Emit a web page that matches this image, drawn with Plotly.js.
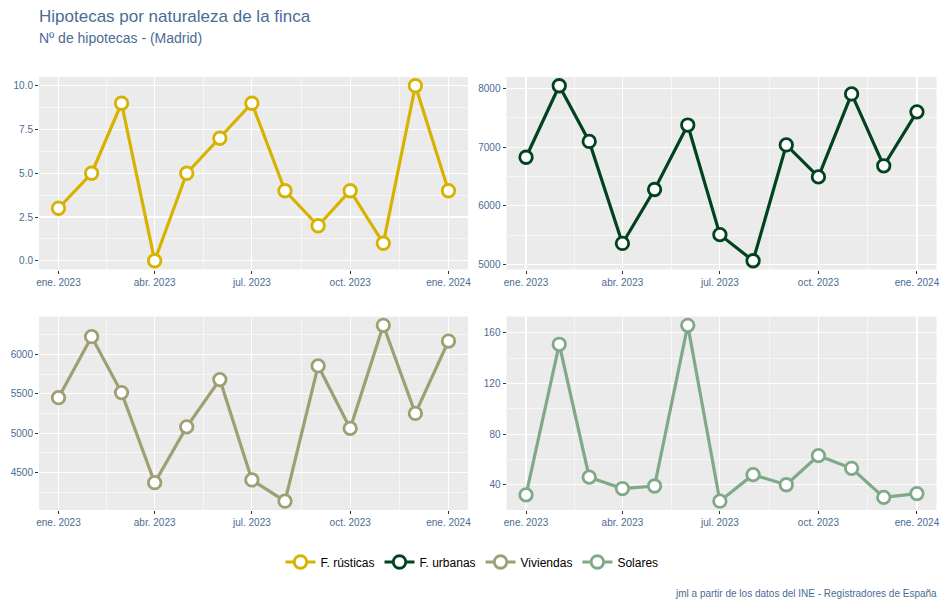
<!DOCTYPE html>
<html>
<head>
<meta charset="utf-8">
<script src="https://cdn.plot.ly/plotly-3.0.1.min.js"></script>
<style>html,body{margin:0;padding:0;background:#fff}#chart{width:944px;height:607px}</style>
</head>
<body>
<div id="chart"></div>
<script>
// ---- Data ----
const months = ["2023-01-01","2023-02-01","2023-03-01","2023-04-01","2023-05-01","2023-06-01","2023-07-01",
                "2023-08-01","2023-09-01","2023-10-01","2023-11-01","2023-12-01","2024-01-01"];
const rusticas = [3, 5, 9, 0, 5, 7, 9, 4, 2, 4, 1, 10, 4];
const urbanas  = [6830, 8050, 7100, 5360, 6280, 7380, 5510, 5065, 7040, 6495, 7910, 6685, 7605];
const viviendas = [5450, 6225, 5515, 4370, 5080, 5680, 4405, 4135, 5855, 5060, 6370, 5250, 6170];
const solares  = [32, 151, 46, 37, 39, 166, 27, 48, 40, 63, 53, 30, 33];
const seriesNames = ["F. rústicas", "F. urbanas", "Viviendas", "Solares"];
const xTickVals = ["2023-01-01","2023-04-01","2023-07-01","2023-10-01","2024-01-01"];
const xTickText = ["ene. 2023","abr. 2023","jul. 2023","oct. 2023","ene. 2024"];
const yTicks1 = [0, 2.5, 5, 7.5, 10];
const yTicks2 = [5000, 6000, 7000, 8000];
const yTicks3 = [4500, 5000, 5500, 6000];
const yTicks4 = [40, 80, 120, 160];

// ---- Style ----
const colors = ["#D6B300", "#00431E", "#9E9F72", "#80A987"];
const txtBlue = "#4A6C94";
const FONT = "Liberation Sans, Arial, sans-serif";
const W = 944, H = 607;

function dt(s){ return new Date(s + "T00:00:00Z").getTime(); }
function iso(t){ return new Date(t).toISOString().slice(0,19).replace("T"," "); }
const t0 = dt(months[0]), t1 = dt(months[months.length-1]);
const pad = (t1 - t0) * 0.05;
const xRange = [iso(t0 - pad), iso(t1 + pad)];
const xMinor = [];
for (let i = 0; i < xTickVals.length - 1; i++) xMinor.push(iso((dt(xTickVals[i]) + dt(xTickVals[i+1])) / 2));

function yRange(v){ const mn = Math.min(...v), mx = Math.max(...v), p = (mx - mn) * 0.05; return [mn - p, mx + p]; }
function yMinor(t){ const out = []; const s = t[1]-t[0]; for (let i = -1; i < t.length; i++) out.push(t[0] + s*i + s/2); return out; }

const px = (a,b) => [a/W, b/W];
const py = (top,bot) => [1 - bot/H, 1 - top/H];
const xDom = [px(39, 468), px(506.5, 936.5)];
const yDom = [py(77, 269.5), py(316.5, 510)];

const data = [];
const layout = {
  width: W, height: H,
  margin: {l:0, r:0, t:0, b:0},
  paper_bgcolor: "#fff", plot_bgcolor: "#EBEBEB",
  font: {family: FONT, color: txtBlue, size: 10},
  showlegend: true,
  legend: {orientation: "h", x: 0.5, xanchor: "center", y: 1 - 562/H, yanchor: "middle",
           font: {family: FONT, size: 12, color: "#000"}, itemwidth: 30, bgcolor: "rgba(0,0,0,0)"},
  title: {text: "Hipotecas por naturaleza de la finca", x: 39/W, xanchor: "left", xref: "paper",
          y: 1 - 16/H, yanchor: "middle", yref: "container",
          font: {family: FONT, size: 17, color: txtBlue}},
  annotations: [
    {text: "Nº de hipotecas - (Madrid)", x: 37/W, y: 1 - 38/H, xref: "paper", yref: "paper",
     xanchor: "left", yanchor: "middle", showarrow: false, font: {family: FONT, size: 14, color: txtBlue}},
    {text: "jml a partir de los datos del INE - Registradores de España", x: 939/W, y: 1 - 593/H,
     xref: "paper", yref: "paper", xanchor: "right", yanchor: "middle", showarrow: false,
     font: {family: FONT, size: 10, color: txtBlue}}
  ],
  shapes: []
};

const allSeries = [rusticas, urbanas, viviendas, solares];
const allYTicks = [yTicks1, yTicks2, yTicks3, yTicks4];
const tickFormats = [".1f", "d", "d", "d"];

for (let k = 0; k < 4; k++) {
  const n = k + 1;
  const xa = n === 1 ? "xaxis" : "xaxis" + n;
  const ya = n === 1 ? "yaxis" : "yaxis" + n;
  const col = k % 2, row = Math.floor(k / 2);
  data.push({
    type: "scatter", mode: "lines+markers", name: seriesNames[k],
    x: months, y: allSeries[k],
    xaxis: n === 1 ? "x" : "x" + n, yaxis: n === 1 ? "y" : "y" + n,
    line: {color: colors[k], width: 3.2},
    marker: {symbol: "circle", size: 12.5, color: "#fff", line: {color: colors[k], width: 2.8}},
    hoverinfo: "x+y"
  });
  layout[xa] = {
    domain: xDom[col], anchor: n === 1 ? "y" : "y" + n, type: "date", range: xRange,
    tickmode: "array", tickvals: xTickVals, ticktext: xTickText,
    ticks: "outside", ticklen: 3, tickwidth: 1, tickcolor: "#333",
    tickfont: {family: FONT, size: 10, color: txtBlue},
    showgrid: true, gridcolor: "#fff", gridwidth: 1.1, zeroline: false, showline: false,
    minor: {tickmode: "array", tickvals: xMinor, showgrid: true, gridcolor: "#fff", gridwidth: 0.55, ticks: ""},
    fixedrange: true
  };
  layout[ya] = {
    domain: yDom[row], anchor: n === 1 ? "x" : "x" + n, range: yRange(allSeries[k]),
    tickmode: "array", tickvals: allYTicks[k], tickformat: tickFormats[k],
    ticks: "outside", ticklen: 3, tickwidth: 1, tickcolor: "#333",
    tickfont: {family: FONT, size: 10, color: txtBlue},
    showgrid: true, gridcolor: "#fff", gridwidth: 1.1, zeroline: false, showline: false,
    minor: {tickmode: "array", tickvals: yMinor(allYTicks[k]), showgrid: true, gridcolor: "#fff", gridwidth: 0.55, ticks: ""},
    fixedrange: true
  };
}

Plotly.newPlot("chart", data, layout, {displayModeBar: false, staticPlot: true});
</script>
</body>
</html>
